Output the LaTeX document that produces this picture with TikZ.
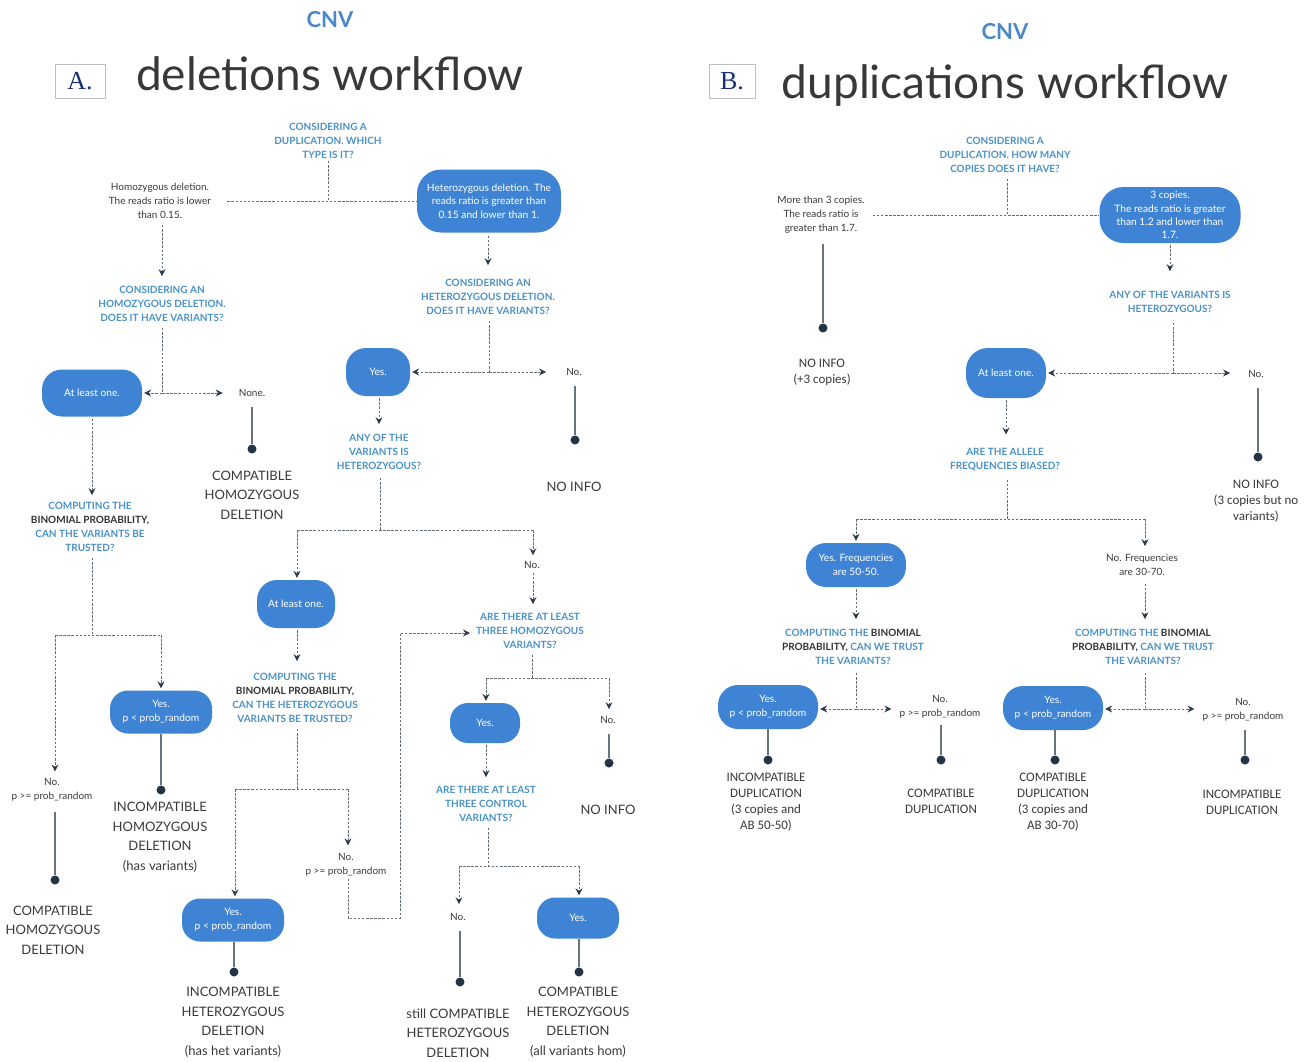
\documentclass[tikz,border=0pt]{standalone}
\usepackage{fontspec}
\setmainfont{Lato}
\newfontfamily\carl{Carlito}
\newfontfamily\tserif{Liberation Serif}
\usetikzlibrary{arrows.meta}
\definecolor{boxblue}{HTML}{3F84D4}
\definecolor{qblue}{HTML}{4A92C6}
\definecolor{qdark}{HTML}{333333}
\definecolor{txtgray}{HTML}{3A3A3A}
\definecolor{lnk}{HTML}{656C75}
\definecolor{tipc}{HTML}{2C3A4A}
\definecolor{dotc}{HTML}{243447}
\definecolor{solc}{HTML}{6B737D}
\definecolor{abblue}{HTML}{1B2F73}
\definecolor{cnvblue}{HTML}{4A88C8}
\tikzset{
  dl/.style={draw=lnk, line width=0.75pt, dash pattern=on 2.5pt off 1.6pt},
  ar/.style={dl, -{Stealth[length=7pt,width=7pt,inset=2.5pt,color=tipc]}, shorten >=2pt},
  sl/.style={draw=solc, line width=1.2pt, shorten <=8pt},
  dot/.style={circle, fill=dotc, minimum size=9pt, inner sep=0pt},
  q/.style={text=qblue, font=\bfseries\fontsize{10}{14}\selectfont, align=center, inner sep=2pt},
  body/.style={text=txtgray, font=\fontsize{10}{14}\selectfont, align=center, inner sep=2pt},
  box/.style={fill=boxblue, text=white, font=\fontsize{10.2}{13.6}\selectfont, align=center, inner sep=1pt},
  res/.style={text=txtgray, font=\fontsize{13}{19.5}\selectfont, align=center, inner sep=2pt},
  resB/.style={text=txtgray, font=\carl\fontsize{13}{15.8}\selectfont, align=center, inner sep=2pt},
  title/.style={text=cnvblue, font=\bfseries\fontsize{22}{24}\selectfont},
  labbox/.style={draw=gray!50, fill=white, text=abblue, font=\tserif\fontsize{26}{28}\selectfont, minimum height=34pt, inner sep=0pt},
  hand/.style={text=black!78, font=\fontsize{46}{48}\selectfont}
}
\begin{document}
\begin{tikzpicture}[x=1pt,y=-1pt]
\useasboundingbox[fill=white] (0,0) rectangle (1310,1061);

% ================= PART A =================
\node[title] (cnvA) at (330,20) {CNV};
\node[labbox, minimum width=50pt] (labA) at (80,81) {A.};
\node[hand] (hA) at (330,74) {deletions workflow};

\node[q] (q1) at (328,141) {CONSIDERING A\\DUPLICATION. WHICH\\TYPE IS IT?};
\node[body] (homo) at (160,201) {Homozygous deletion.\\The reads ratio is lower\\than 0.15.};
\node[box, minimum width=144pt, minimum height=63pt, rounded corners=24pt] (het) at (489,201) {Heterozygous deletion. The\\reads ratio is greater than\\0.15 and lower than 1.};
\coordinate (j1) at (328,201);
\draw[dl] (q1.south -| j1) -- (j1);
\draw[dl, shorten <=14pt] (homo.east |- j1) -- (het.west |- j1);

\node[q] (qhomo) at (162,304) {CONSIDERING AN\\HOMOZYGOUS DELETION.\\DOES IT HAVE VARIANTS?};
\node[q] (qhet) at (488,297) {CONSIDERING AN\\HETEROZYGOUS DELETION.\\DOES IT HAVE VARIANTS?};
\draw[ar, shorten <=4pt, shorten >=8pt] (homo.south -| qhomo) -- (qhomo.north);
\draw[ar, shorten <=3pt, shorten >=12pt] (het.south -| qhet) -- (qhet.north);

% homozygous branch
\coordinate (j2) at (162,393);
\node[box, minimum width=100pt, minimum height=47pt, rounded corners=20pt] (atl1) at (92,393) {At least one.};
\node[body] (none) at (252,393) {None.};
\draw[dl, shorten <=4pt] (qhomo.south -| j2) -- (j2);
\draw[ar] (j2) -- (j2 -| atl1.east);
\draw[ar, shorten >=14pt] (j2) -- (j2 -| none.west);
\node[dot] (d1) at (252,449) {};
\draw[sl] (none) -- (d1);
\node[res] (rA1) at (252,495) {COMPATIBLE\\HOMOZYGOUS\\DELETION};

\node[q] (q3) at (90,527) {COMPUTING THE\\\textcolor{qdark}{BINOMIAL PROBABILITY,}\\CAN THE VARIANTS BE\\TRUSTED?};
\draw[ar, shorten <=2pt, shorten >=5pt] (atl1.south) -- (q3.north -| atl1);
\coordinate (j3) at (92,635);
\coordinate (j3l) at (55,635);
\coordinate (j3r) at (161,635);
\draw[dl, shorten <=4pt] (q3.south -| j3) -- (j3);
\draw[dl] (j3l) -- (j3r);
\node[box, minimum width=102pt, minimum height=43pt, rounded corners=18pt] (yes1) at (161,712) {Yes.\\p < prob\_random};
\draw[ar] (j3r) -- (yes1.north -| j3r);
\node[body] (no1) at (52,790) {No.\\p >= prob\_random};
\draw[ar, shorten >=5pt] (j3l) -- (no1.north -| j3l);
\node[dot] (d2) at (55,880) {};
\draw[sl] (no1.south -| d2) -- (d2);
\node[res] (rA2) at (53,930) {COMPATIBLE\\HOMOZYGOUS\\DELETION};
\node[dot] (d3) at (161,790) {};
\draw[sl, shorten <=0pt] (yes1) -- (d3);
\node[res] (rA3) at (160,837) {INCOMPATIBLE\\HOMOZYGOUS\\DELETION\\(has variants)};

% heterozygous branch
\coordinate (j4) at (489,372);
\node[box, minimum width=64pt, minimum height=48pt, rounded corners=20pt] (yes2) at (378,372) {Yes.};
\node[body] (no2) at (574,372) {No.};
\draw[dl, shorten <=4pt] (qhet.south -| j4) -- (j4);
\draw[ar] (j4) -- (j4 -| yes2.east);
\draw[ar, shorten >=18pt] (j4) -- (j4 -| no2.west);
\node[dot] (d4) at (575,440) {};
\draw[sl] (no2.south -| d4) -- (d4);
\node[res] (rA4) at (574,487) {NO INFO};
\node[q] (qany) at (379,452) {ANY OF THE\\VARIANTS IS\\HETEROZYGOUS?};
\draw[ar, shorten <=2pt, shorten >=8pt] (yes2.south -| qany) -- (qany.north);
\coordinate (j5) at (380,530);
\coordinate (j5l) at (297,530);
\coordinate (j5r) at (533,530);
\draw[dl, shorten <=6pt] (qany.south -| j5) -- (j5);
\draw[dl] (j5l) -- (j5r);
\node[box, minimum width=78pt, minimum height=48pt, rounded corners=20pt] (atl2) at (296,604) {At least one.};
\draw[ar] (j5l) -- (atl2.north -| j5l);
\node[body] (no3) at (532,565) {No.};
\draw[ar, shorten >=4pt] (j5r) -- (no3.north -| j5r);
\node[q] (qthree) at (530,631) {ARE THERE AT LEAST\\THREE HOMOZYGOUS\\VARIANTS?};
\draw[ar, shorten <=2pt, shorten >=7pt] (no3.south -| j5r) -- (qthree.north -| j5r);

\node[q] (q4) at (295,698) {COMPUTING THE\\\textcolor{qdark}{BINOMIAL PROBABILITY,}\\CAN THE HETEROZYGOUS\\VARIANTS BE TRUSTED?};
\draw[ar, shorten <=2pt, shorten >=10pt] (atl2.south -| j5l) -- (q4.north -| j5l);
\coordinate (j6) at (297,789);
\coordinate (j6l) at (235,789);
\coordinate (j6r) at (348,789);
\draw[dl, shorten <=4pt] (q4.south -| j6) -- (j6);
\draw[dl] (j6l) -- (j6r);
\node[box, minimum width=102pt, minimum height=43pt, rounded corners=18pt] (yes3) at (233,920) {Yes.\\p < prob\_random};
\draw[ar] (j6l) -- (yes3.north -| j6l);
\node[body] (no4) at (346,865) {No.\\p >= prob\_random};
\draw[ar, shorten >=6pt] (j6r) -- (no4.north -| j6r);
\coordinate (k1) at (348,918);
\coordinate (k2) at (400,918);
\coordinate (k3) at (400,633);
\draw[ar, shorten >=4pt] (no4.south -| k1) -- (k1) -- (k2) -- (k3) -- (qthree.west |- k3);
\node[dot] (d5) at (234,972) {};
\draw[sl, shorten <=0pt] (yes3.south -| d5) -- (d5);
\node[res] (rA5) at (233,1022) {INCOMPATIBLE\\HETEROZYGOUS\\DELETION\\(has het variants)};

\coordinate (j7) at (532,678);
\coordinate (j7l) at (486,678);
\coordinate (j7r) at (609,678);
\draw[dl, shorten <=4pt] (qthree.south -| j7) -- (j7);
\draw[dl] (j7l) -- (j7r);
\node[box, minimum width=70pt, minimum height=40pt, rounded corners=18pt] (yes4) at (485,723) {Yes.};
\draw[ar] (j7l) -- (yes4.north -| j7l);
\node[body] (no5) at (608,720) {No.};
\draw[ar, shorten >=5pt] (j7r) -- (no5.north -| j7r);
\node[dot] (d6) at (609,763) {};
\draw[sl] (no5.south -| d6) -- (d6);
\node[res] (rA6) at (608,810) {NO INFO};
\node[q] (qctrl) at (486,804) {ARE THERE AT LEAST\\THREE CONTROL\\VARIANTS?};
\draw[ar, shorten <=2pt, shorten >=7pt] (yes4.south -| j7l) -- (qctrl.north -| j7l);
\coordinate (j8) at (488,866);
\coordinate (j8l) at (459,866);
\coordinate (j8r) at (579,866);
\draw[dl, shorten <=4pt] (qctrl.south -| j8) -- (j8);
\draw[dl] (j8l) -- (j8r);
\node[body] (no6) at (458,917) {No.};
\draw[ar, shorten >=7pt] (j8l) -- (no6.north -| j8l);
\node[box, minimum width=82pt, minimum height=41pt, rounded corners=18pt] (yes5) at (578,918) {Yes.};
\draw[ar] (j8r) -- (yes5.north -| j8r);
\node[dot] (d7) at (460,982) {};
\draw[sl] (no6.south -| d7) -- (d7);
\node[res] (rA7) at (458,1033) {still COMPATIBLE\\HETEROZYGOUS\\DELETION};
\node[dot] (d8) at (579,972) {};
\draw[sl, shorten <=0pt] (yes5.south -| d8) -- (d8);
\node[res] (rA8) at (578,1022) {COMPATIBLE\\HETEROZYGOUS\\DELETION\\(all variants hom)};

% ================= PART B =================
\node[title] (cnvB) at (1005,32) {CNV};
\node[labbox, minimum width=46pt] (labB) at (732,81) {B.};
\node[hand] (hB) at (1005,86) {duplications workflow};

\node[q] (qB1) at (1005,155) {CONSIDERING A\\DUPLICATION. HOW MANY\\COPIES DOES IT HAVE?};
\node[body] (more3) at (821,215) {More than 3 copies.\\The reads ratio is\\greater than 1.7.};
\node[box, minimum width=141pt, minimum height=56pt, rounded corners=24pt, font=\fontsize{10.2}{13.3}\selectfont] (three) at (1170,215) {3 copies.\\The reads ratio is greater\\than 1.2 and lower than\\1.7.};
\coordinate (jB1) at (1007,215);
\draw[dl, shorten <=4pt] (qB1.south -| jB1) -- (jB1);
\draw[dl, shorten <=6pt] (more3.east |- jB1) -- (three.west |- jB1);
\node[dot] (dB1) at (823,328) {};
\draw[sl] (more3.south -| dB1) -- (dB1);
\node[resB] (rB1) at (822,372) {NO INFO\\(+3 copies)};
\node[q] (qB2) at (1170,302) {ANY OF THE VARIANTS IS\\HETEROZYGOUS?};
\draw[ar, shorten <=2pt, shorten >=18pt] (three.south -| qB2) -- (qB2.north);
\coordinate (jB2) at (1173,373);
\draw[dl, shorten <=8pt] (qB2.south -| jB2) -- (jB2);
\node[box, minimum width=80pt, minimum height=50pt, rounded corners=22pt] (atlB) at (1006,373) {At least one.};
\node[body] (noB1) at (1256,374) {No.};
\draw[ar] (jB2) -- (jB2 -| atlB.east);
\draw[ar, shorten >=16pt] (jB2) -- (jB2 -| noB1.west);
\node[dot] (dB2) at (1258,457) {};
\draw[sl] (noB1.south -| dB2) -- (dB2);
\node[resB] (rB2) at (1256,501) {NO INFO\\(3 copies but no\\variants)};
\node[q] (qB3) at (1005,460) {ARE THE ALLELE\\FREQUENCIES BIASED?};
\draw[ar, shorten <=2pt, shorten >=12pt] (atlB.south) -- (qB3.north -| atlB);
\coordinate (jB3) at (1007,519);
\coordinate (jB3l) at (856,519);
\coordinate (jB3r) at (1145,519);
\draw[dl, shorten <=6pt] (qB3.south -| jB3) -- (jB3);
\draw[dl] (jB3l) -- (jB3r);
\node[box, minimum width=100pt, minimum height=44pt, rounded corners=20pt] (y50) at (856,565) {Yes. Frequencies\\are 50-50.};
\node[body] (n30) at (1142,565) {No. Frequencies\\are 30-70.};
\draw[ar] (jB3l) -- (y50.north -| jB3l);
\draw[ar, shorten >=6pt] (jB3r) -- (n30.north -| jB3r);
\node[q] (qB4) at (853,647) {COMPUTING THE \textcolor{qdark}{BINOMIAL}\\\textcolor{qdark}{PROBABILITY,} CAN WE TRUST\\THE VARIANTS?};
\node[q] (qB5) at (1143,647) {COMPUTING THE \textcolor{qdark}{BINOMIAL}\\\textcolor{qdark}{PROBABILITY,} CAN WE TRUST\\THE VARIANTS?};
\draw[ar, shorten <=2pt, shorten >=8pt] (y50.south -| jB3l) -- (qB4.north -| jB3l);
\draw[ar, shorten <=6pt, shorten >=8pt] (n30.south -| jB3r) -- (qB5.north -| jB3r);
\coordinate (jB4) at (856,709);
\coordinate (jB5) at (1145,709);
\draw[dl, shorten <=6pt] (qB4.south -| jB4) -- (jB4);
\draw[dl, shorten <=6pt] (qB5.south -| jB5) -- (jB5);
\node[box, minimum width=100pt, minimum height=44pt, rounded corners=20pt] (yB1) at (768,707) {Yes.\\p < prob\_random};
\node[body] (nB1) at (940,707) {No.\\p >= prob\_random};
\draw[ar] (jB4) -- (jB4 -| yB1.east);
\draw[ar, shorten >=6pt] (jB4) -- (jB4 -| nB1.west);
\node[box, minimum width=100pt, minimum height=44pt, rounded corners=20pt] (yB2) at (1053,708) {Yes.\\p < prob\_random};
\node[body] (nB2) at (1243,710) {No.\\p >= prob\_random};
\draw[ar] (jB5) -- (jB5 -| yB2.east);
\draw[ar, shorten >=6pt] (jB5) -- (jB5 -| nB2.west);
\node[dot] (dB3) at (768,760) {};
\node[dot] (dB4) at (941,760) {};
\node[dot] (dB5) at (1055,760) {};
\node[dot] (dB6) at (1245,760) {};
\draw[sl, shorten <=0pt] (yB1.south -| dB3) -- (dB3);
\draw[sl, shorten <=4pt] (nB1.south -| dB4) -- (dB4);
\draw[sl, shorten <=0pt] (yB2.south -| dB5) -- (dB5);
\draw[sl, shorten <=6pt] (nB2.south -| dB6) -- (dB6);
\node[resB] (rB3) at (766,802) {INCOMPATIBLE\\DUPLICATION\\(3 copies and\\AB 50-50)};
\node[resB] (rB4) at (941,801) {COMPATIBLE\\DUPLICATION};
\node[resB] (rB5) at (1053,802) {COMPATIBLE\\DUPLICATION\\(3 copies and\\AB 30-70)};
\node[resB] (rB6) at (1242,802) {INCOMPATIBLE\\DUPLICATION};
\end{tikzpicture}
\end{document}
